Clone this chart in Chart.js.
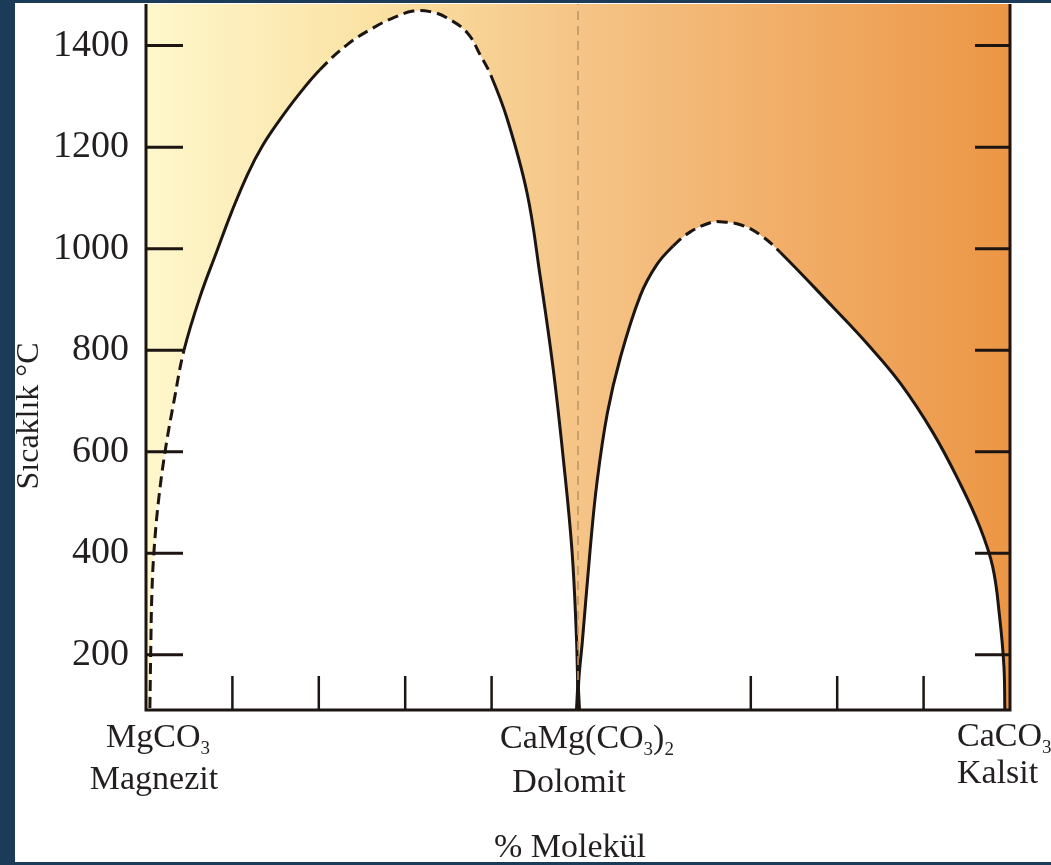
<!DOCTYPE html>
<html>
<head>
<meta charset="utf-8">
<title>MgCO3 - CaCO3 faz diyagramı</title>
<script src="https://cdn.jsdelivr.net/npm/chart.js"></script>
<style>
  html, body { margin: 0; padding: 0; background: #1b3b59; }
  body { width: 1051px; height: 865px; overflow: hidden; position: relative; }
  .panel { position: absolute; left: 15px; top: 3px; width: 1036px; height: 859px; background: #fff; }
</style>
</head>
<body>
<div class="panel"><canvas id="chart" width="1036" height="859"></canvas></div>
<script>
// sıcaklık ekseni (°C) ve bileşim ekseni (% molekül)
const tempMin = 91;
const tempMax = 1482;
const tempTicks = [200, 400, 600, 800, 1000, 1200, 1400];
const molTicks = [10, 20, 30, 40, 70, 80, 90];

// magnezit - dolomit çözünmezlik eğrisi  [% molekül, °C]
const magnezitDashLow = [[0.45, 95], [0.55, 209], [0.68, 320], [0.95, 410], [1.5, 511], [2.3, 610], [3.3, 705], [4.4, 800]];
const magnezitSolidLeft = [[4.4, 800], [6.25, 905], [8.2, 995], [9.95, 1074], [11.8, 1148], [13.5, 1203], [15.5, 1254], [17.6, 1302], [20.1, 1352]];
const magnezitDashTop = [[20.1, 1352], [23.3, 1402], [26.3, 1435], [28.8, 1456], [30.9, 1468], [32.9, 1467], [34.8, 1455], [37.2, 1425], [38.7, 1381], [39.9, 1342]];
const magnezitSolidRight = [[39.9, 1342], [41.8, 1256], [44.1, 1110], [45.6, 948], [47.1, 767], [48.3, 586], [49.3, 406], [49.8, 243], [49.95, 152], [50, 91]];

// dolomit - kalsit çözünmezlik eğrisi
const kalsitSolidLeft = [[50, 91], [50.1, 152], [50.5, 225], [51.4, 406], [52.2, 540], [53.4, 676], [54.9, 785], [57.2, 907], [59.1, 968], [61.0, 1005]];
const kalsitDashTop = [[61.0, 1005], [63.0, 1033], [65.3, 1051], [66.4, 1053], [68.8, 1047], [71.1, 1027], [73.4, 993]];
const kalsitSolidRight = [[73.4, 993], [79.5, 885], [83.4, 814], [87.3, 735], [91.1, 637], [94.2, 538], [96.5, 452], [98.0, 373], [98.8, 274], [99.3, 176], [99.4, 91]];

// dolomit bileşimi (kesikli dikey çizgi)
const dolomitLine = [[50, tempMin], [50, tempMax]];

const ink = '#1c1512';
const textColor = '#231f20';
const serif = '"Liberation Serif", "DejaVu Serif", serif';

function toPoints(arr) {
  return arr.map(p => ({ x: p[0], y: p[1] }));
}

// parçaları tek eğride birleştir: beyaz alan + kesikli/düz çizgi
function dome(parts) {
  const pts = [];
  const dashFlags = [];
  parts.forEach(([arr, dashed], i) => {
    const start = i === 0 ? 0 : pts.length - 1;
    arr.forEach((p, j) => {
      if (i > 0 && j === 0) return;
      pts.push({ x: p[0], y: p[1] });
    });
    for (let k = start; k < pts.length - 1; k++) dashFlags[k] = dashed;
  });
  const area = {
    data: pts,
    borderWidth: 0,
    borderColor: 'rgba(0,0,0,0)',
    backgroundColor: '#ffffff',
    fill: 'start',
    pointRadius: 0,
    tension: 0.4
  };
  const line = {
    data: pts,
    borderColor: ink,
    borderWidth: 3,
    fill: false,
    pointRadius: 0,
    tension: 0.4,
    segment: {
      borderDash: c => dashFlags[c.p0DataIndex] ? [11, 6] : undefined
    }
  };
  return [area, line];
}

// alt indisli yazı
function richText(ctx, parts, x, y, align) {
  const big = '34px ' + serif, small = '19px ' + serif;
  let w = 0;
  parts.forEach(p => { ctx.font = p[1] ? small : big; w += ctx.measureText(p[0]).width; });
  let cx = align === 'left' ? x : x - w / 2;
  parts.forEach(p => {
    ctx.font = p[1] ? small : big;
    ctx.fillText(p[0], cx, p[1] ? y + 7 : y);
    cx += ctx.measureText(p[0]).width;
  });
}

const diagramPlugin = {
  id: 'diagram',
  beforeDraw(chart) {
    const { ctx, chartArea: a } = chart;
    const g = ctx.createLinearGradient(a.left, 0, a.right, 0);
    g.addColorStop(0, '#fef7cc');
    g.addColorStop(0.25, '#fbe3a6');
    g.addColorStop(0.5, '#f5c487');
    g.addColorStop(0.75, '#f1ad67');
    g.addColorStop(1, '#ec9645');
    ctx.save();
    ctx.fillStyle = g;
    ctx.fillRect(a.left, a.top, a.width, a.height);
    ctx.restore();
  },
  afterDatasetsDraw(chart) {
    const { ctx, chartArea: a, scales: { x, y } } = chart;
    ctx.save();
    ctx.strokeStyle = ink;
    ctx.lineWidth = 3;
    ctx.beginPath();
    ctx.moveTo(a.left, a.top);
    ctx.lineTo(a.left, a.bottom);
    ctx.lineTo(a.right, a.bottom);
    ctx.lineTo(a.right, a.top);
    ctx.stroke();
    ctx.beginPath();
    tempTicks.forEach(v => {
      const py = y.getPixelForValue(v);
      ctx.moveTo(a.left, py);
      ctx.lineTo(a.left + 37, py);
      ctx.moveTo(a.right, py);
      ctx.lineTo(a.right - 35, py);
    });
    ctx.stroke();
    ctx.lineWidth = 2.5;
    ctx.beginPath();
    molTicks.forEach(v => {
      const px = x.getPixelForValue(v);
      ctx.moveTo(px, a.bottom);
      ctx.lineTo(px, a.bottom - 34);
    });
    ctx.stroke();
    // dolomit çukurunun dibi
    const xd = x.getPixelForValue(50);
    ctx.fillStyle = ink;
    ctx.beginPath();
    ctx.moveTo(xd - 3, a.bottom);
    ctx.lineTo(xd - 1.5, a.bottom - 30);
    ctx.lineTo(xd + 1.5, a.bottom - 30);
    ctx.lineTo(xd + 3, a.bottom);
    ctx.closePath();
    ctx.fill();
    ctx.restore();
  },
  afterDraw(chart) {
    const { ctx, scales: { x } } = chart;
    ctx.save();
    ctx.fillStyle = textColor;
    ctx.textBaseline = 'alphabetic';
    const x0 = x.getPixelForValue(0), x50 = x.getPixelForValue(50), x100 = x.getPixelForValue(100);

    richText(ctx, [['MgCO', false], ['3', true]], x0 + 12, 744, 'center');
    richText(ctx, [['Magnezit', false]], x0 + 8, 786, 'center');
    richText(ctx, [['CaMg(CO', false], ['3', true], [')', false], ['2', true]], x50 + 9, 745, 'center');
    richText(ctx, [['Dolomit', false]], x50 - 9, 789, 'center');
    richText(ctx, [['CaCO', false], ['3', true]], x100 - 53, 743, 'left');
    richText(ctx, [['Kalsit', false]], x100 - 53, 780, 'left');
    richText(ctx, [['% Molekül', false]], x50 - 8, 854, 'center');

    ctx.translate(23, 413);
    ctx.rotate(-Math.PI / 2);
    ctx.font = '32px ' + serif;
    ctx.textAlign = 'center';
    ctx.fillText('Sıcaklık °C', 0, 0);
    ctx.restore();
  }
};

const ctx = document.getElementById('chart').getContext('2d');
new Chart(ctx, {
  type: 'line',
  data: {
    datasets: [
      {
        data: toPoints(dolomitLine),
        borderColor: '#bf9066',
        borderWidth: 1.5,
        borderDash: [9, 6],
        fill: false,
        pointRadius: 0
      },
      ...dome([[magnezitDashLow, true], [magnezitSolidLeft, false], [magnezitDashTop, true], [magnezitSolidRight, false]]),
      ...dome([[kalsitSolidLeft, false], [kalsitDashTop, true], [kalsitSolidRight, false]])
    ]
  },
  options: {
    responsive: false,
    animation: false,
    layout: { padding: { top: 1, right: 41, left: 0, bottom: 0 } },
    plugins: {
      legend: { display: false },
      tooltip: { enabled: false },
      filler: { drawTime: 'beforeDatasetsDraw' }
    },
    scales: {
      x: {
        type: 'linear',
        min: 0,
        max: 100,
        grid: { display: false },
        border: { display: false },
        ticks: { display: false },
        afterFit(s) {
          s.height = 152;
          s.paddingLeft = 0; s.paddingRight = 0;
        }
      },
      y: {
        type: 'linear',
        min: tempMin,
        max: tempMax,
        grid: { display: false },
        border: { display: false },
        afterBuildTicks(s) { s.ticks = tempTicks.map(v => ({ value: v })); },
        ticks: {
          color: textColor,
          padding: 9,
          font: { family: serif, size: 38 },
          callback: v => String(v)
        },
        afterFit(s) {
          s.width = 131;
          s.paddingTop = 0; s.paddingBottom = 0;
        }
      }
    }
  },
  plugins: [diagramPlugin]
});
</script>
</body>
</html>
